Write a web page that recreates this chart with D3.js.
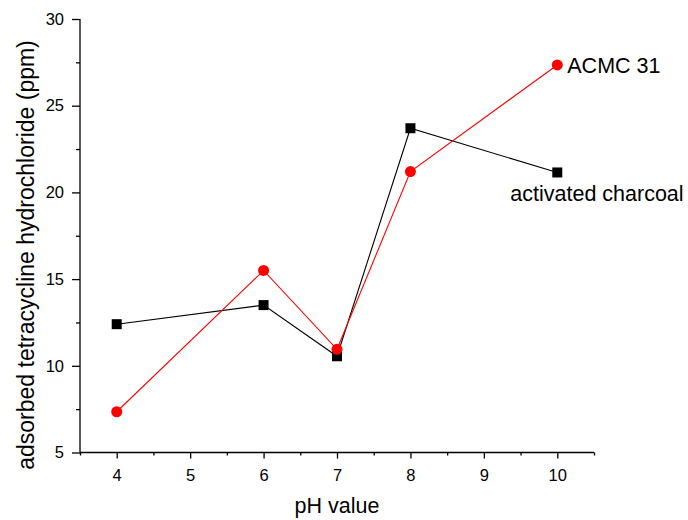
<!DOCTYPE html>
<html>
<head>
<meta charset="utf-8">
<script src="https://cdn.jsdelivr.net/npm/d3@7"></script>
<style>
  html, body { margin: 0; padding: 0; background: #fff; }
  text { font-family: "Liberation Sans", Arial, sans-serif; }
</style>
</head>
<body>
<svg id="chart" width="688" height="520"></svg>
<script>
// pH values tested
const phValues = [4, 6, 7, 8, 10];
// adsorbed tetracycline hydrochloride (ppm)
const charcoalValues = [12.4, 13.5, 10.55, 23.7, 21.15];
const acmcValues = [7.35, 15.5, 10.95, 21.2, 27.35];
const seriesNames = ["activated charcoal", "ACMC 31"];
const xTicks = [4, 5, 6, 7, 8, 9, 10];
const yTicks = [5, 10, 15, 20, 25, 30];

const svg = d3.select("#chart");
const x = d3.scaleLinear().domain([3.5, 10.5]).range([80, 594]);
const y = d3.scaleLinear().domain([5, 30]).range([452.5, 19]);

const g = svg.append("g");

// x axis: major ticks plus half-step minor ticks
const xAxis = g.append("g").attr("transform", `translate(0,${y(5)})`);
xAxis.append("g")
  .call(d3.axisBottom(x).tickValues(d3.range(3.5, 10.51, 1)).tickSize(3).tickFormat(""))
  .call(s => s.select(".domain").remove());
xAxis.append("g")
  .call(d3.axisBottom(x).tickValues(xTicks).tickSize(6).tickPadding(11).tickFormat(d3.format("d")))
  .call(s => s.select(".domain").attr("d", `M${x(3.5)},0H${x(10.5)}`));

// y axis
const yAxis = g.append("g").attr("transform", `translate(${x(3.5)},0)`);
yAxis.append("g")
  .call(d3.axisLeft(y).tickValues(d3.range(7.5, 30, 5)).tickSize(4).tickFormat(""))
  .call(s => s.select(".domain").remove());
yAxis.append("g")
  .call(d3.axisLeft(y).tickValues(yTicks).tickSize(8).tickPadding(8).tickFormat(d3.format("d")))
  .call(s => s.select(".domain").attr("d", `M0,${y(5)}V${y(30)}`));

g.selectAll(".tick text").attr("font-size", 16.5).attr("fill", "#000")
  .attr("font-family", "Liberation Sans, Arial, sans-serif");
g.selectAll(".domain, .tick line").attr("stroke", "#000").attr("stroke-width", 1.3);

// axis titles
svg.append("text")
  .attr("x", x(7)).attr("y", 513)
  .attr("text-anchor", "middle").attr("font-size", 21.5)
  .text("pH value");
svg.append("text")
  .attr("transform", `translate(34,255) rotate(-90)`)
  .attr("text-anchor", "middle").attr("font-size", 23)
  .text("adsorbed tetracycline hydrochloride (ppm)");

const line = d3.line().x(d => x(d[0])).y(d => y(d[1]));
const charcoal = d3.zip(phValues, charcoalValues);
const acmc = d3.zip(phValues, acmcValues);

// activated charcoal series: black squares
g.append("path").datum(charcoal)
  .attr("d", line).attr("fill", "none").attr("stroke", "#000").attr("stroke-width", 1.1);
g.selectAll(".sq").data(charcoal).enter().append("rect")
  .attr("x", d => x(d[0]) - 5).attr("y", d => y(d[1]) - 5)
  .attr("width", 10).attr("height", 10).attr("fill", "#000");

// ACMC 31 series: red circles
g.append("path").datum(acmc)
  .attr("d", line).attr("fill", "none").attr("stroke", "#ff0000").attr("stroke-width", 1.1);
g.selectAll(".ci").data(acmc).enter().append("circle")
  .attr("cx", d => x(d[0])).attr("cy", d => y(d[1]))
  .attr("r", 5.5).attr("fill", "#ff0000");

// series labels next to the last points
const lastA = acmc[acmc.length - 1];
svg.append("text")
  .attr("x", x(lastA[0]) + 10).attr("y", y(lastA[1]) + 8)
  .attr("font-size", 21.5).text(seriesNames[1]);
const lastC = charcoal[charcoal.length - 1];
svg.append("text")
  .attr("x", x(lastC[0]) - 47).attr("y", y(lastC[1]) + 29)
  .attr("font-size", 21.5).text(seriesNames[0]);
</script>
</body>
</html>
